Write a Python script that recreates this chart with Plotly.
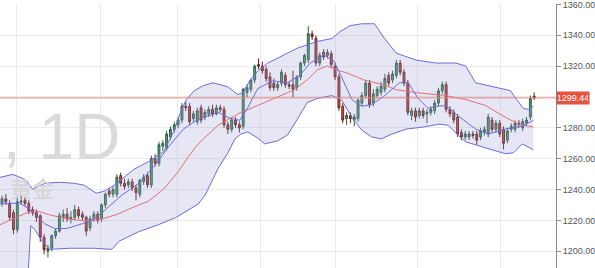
import plotly.graph_objects as go

# ---- OHLC data (daily candles) ----
opens = [1231,1234,1231,1225,1214,1232,1233,1231,1227,1225,
         1223,1209,1200,1202,1210,1213,1222,1224,1221,1222,
         1227,1224,1222,1215,1221,1224,1221,1230,1239,1237,
         1237,1249,1244,1243,1245,1241,1237,1245,1249,1243,
         1260,1257,1268,1267,1274,1279,1282,1285,1294,1294,
         1286,1284,1293,1287,1289,1292,1289,1293,1292,1282,
         1279,1285,1282,1281,1303,1305,1311,1321,1320,1318,
         1313,1309,1306,1309,1314,1308,1308,1306,1313,1322,
         1324,1341,1338,1322,1329,1327,1328,1320,1313,1294,
         1286,1288,1285,1286,1296,1301,1309,1296,1301,1303,
         1305,1314,1311,1314,1322,1316,1309,1288,1291,1288,
         1291,1289,1290,1291,1296,1304,1308,1292,1290,1287,
         1277,1274,1274,1276,1276,1274,1277,1276,1285,1279,
         1283,1279,1272,1279,1279,1283,1280,1283,1287,1300.5]
highs = [1236,1237,1233,1227,1235,1236,1235,1233,1229,1227,
         1224,1211,1204,1211,1215,1225,1227,1228,1226,1230,
         1229,1226,1223,1223,1226,1226,1231,1238,1241,1242,
         1250,1251,1247,1247,1247,1243,1247,1250,1251,1262,
         1263,1271,1272,1278,1281,1284,1287,1296,1297,1296,
         1291,1293,1295,1292,1294,1295,1295,1295,1294,1284,
         1287,1287,1284,1306,1308,1312,1321,1325,1323,1320,
         1316,1312,1310,1318,1316,1310,1317,1314,1323,1328,
         1346,1343,1340,1329,1331,1331,1330,1322,1315,1296,
         1290,1290,1289,1299,1303,1311,1311,1305,1307,1310,
         1315,1316,1317,1324,1324,1318,1311,1293,1293,1293,
         1293,1292,1294,1298,1306,1310,1310,1294,1292,1289,
         1279,1278,1278,1278,1278,1280,1281,1289,1287,1285,
         1285,1281,1280,1283,1285,1285,1286,1287,1301,1303]
lows = [1229,1230,1220,1211,1212,1230,1229,1224,1223,1219,
        1206,1198,1196,1200,1208,1212,1219,1219,1218,1220,
        1221,1220,1210,1213,1219,1218,1219,1228,1235,1235,
        1235,1242,1240,1241,1239,1233,1235,1243,1241,1241,
        1255,1255,1265,1265,1272,1277,1280,1283,1291,1282,
        1284,1282,1283,1285,1287,1287,1288,1290,1280,1276,
        1277,1280,1277,1279,1300,1303,1309,1318,1315,1310,
        1304,1304,1304,1307,1306,1305,1300,1304,1311,1320,
        1322,1337,1320,1320,1324,1325,1319,1311,1291,1283,
        1282,1283,1281,1284,1294,1299,1293,1294,1299,1301,
        1303,1307,1309,1312,1314,1307,1288,1285,1284,1286,
        1286,1283,1288,1289,1294,1302,1290,1287,1283,1274,
        1272,1272,1272,1273,1269,1272,1275,1274,1277,1277,
        1274,1266,1270,1277,1277,1280,1278,1281,1285,1298]
closes = [1234,1232,1222,1214,1232,1232.5,1231,1226,1225,1222,
          1209,1201,1202,1210,1213,1223,1224,1221,1222,1227,
          1223,1222,1213,1221,1224,1220,1230,1237,1237,1240,
          1248,1244,1242,1245,1241,1238,1246,1248,1243,1260,
          1257,1269,1270,1276,1279,1282,1285,1294,1293,1284,
          1289,1291,1285,1290,1292,1289,1293,1292,1282,1279,
          1285,1282,1280,1305,1306,1311,1320,1320,1317,1312,
          1306,1306,1308,1316,1308,1307,1305,1313,1322,1327,
          1341,1339,1322,1327,1326,1329,1321,1313,1293,1285,
          1288,1286,1287,1298,1301,1309,1295,1302,1305,1307,
          1312,1309,1315,1322,1316,1309,1290,1291,1287,1291,
          1288,1290,1292,1296,1304,1308,1292,1289,1285,1276,
          1274,1276,1276,1275,1272,1278,1279,1287,1279,1283,
          1276,1270,1278,1281,1283,1282,1284,1285,1299,1299.44]
days = list(range(len(closes)))

# ---- Bollinger upper band (day index, price) ----
upper_x = [-0.5, 2.85, 5.95, 8.0, 11.1, 15.0, 18.9, 21.5, 24.6, 26.7, 29.3, 31.8, 34.4,
           38.3, 42.2, 44.8, 46.6, 48.15, 50.2, 52.55, 55.1, 59.0, 61.6, 62.9, 64.7,
           66.8, 69.4, 72.0, 77.1, 82.3, 86.2, 88.3, 90.9, 94.0, 97.3, 99.9, 103.0,
           108.2, 113.4, 118.6, 121.1, 123.7, 128.9, 132.8, 134.6, 136.2, 137.5, 138.75]
upper_y = [1247.9, 1249.8, 1246.6, 1240.2, 1244.0, 1244.7, 1244.0, 1242.8, 1237.6, 1238.9,
           1242.8, 1247.9, 1253.0, 1258.1, 1264.5, 1277.3, 1290.0, 1298.3, 1304.1, 1307.3,
           1309.2, 1306.6, 1301.5, 1302.8, 1310.5, 1316.9, 1322.0, 1325.2, 1331.6, 1336.0,
           1337.9, 1342.4, 1346.2, 1347.5, 1347.5, 1337.9, 1328.4, 1323.9, 1322.0, 1322.0,
           1320.1, 1309.2, 1306.0, 1304.1, 1297.7, 1292.6, 1292.0, 1293.9]

# ---- Bollinger lower band ----
lower_x = [-0.5, 6.47, 7.51, 8.54, 10.35, 12.43, 17.6, 24.07, 28.73, 30.55, 35.72, 40.9,
           45.3, 51.26, 53.07, 56.43, 59.02, 60.83, 62.39, 64.2, 66.79, 68.6, 71.96, 74.55,
           77.14, 79.73, 82.32, 86.2, 88.79, 91.38, 93.97, 96.56, 99.15, 101.2, 105.6,
           110.0, 114.2, 116.5, 119.3, 121.1, 126.3, 131.5, 133.6, 135.9, 138.75]
lower_y = [1168.7, 1168.7, 1216.6, 1214.0, 1207.0, 1201.2, 1201.9, 1201.9, 1201.2, 1206.4,
           1212.7, 1217.2, 1221.7, 1230.6, 1236.4, 1253.6, 1263.8, 1272.8, 1276.0, 1277.3,
           1273.4, 1269.6, 1271.5, 1275.3, 1285.6, 1296.4, 1299.0, 1300.9, 1297.7, 1286.8,
           1278.5, 1274.1, 1272.8, 1275.3, 1279.2, 1280.5, 1282.4, 1281.7, 1274.7, 1270.9,
           1267.0, 1263.2, 1263.8, 1269.6, 1265.8]

# ---- middle line (red) ----
mid_x = [-0.5, 2.85, 6.47, 9.06, 12.43, 16.83, 20.97, 25.37, 29.77, 33.91, 38.31, 42.19,
         46.08, 48.67, 51.26, 56.43, 62.39, 68.6, 76.37, 79.73, 82.32, 84.91, 87.5, 90.09,
         94.49, 99.66, 103.0, 108.2, 115.97, 121.15, 126.3, 131.5, 134.9, 138.75]
mid_y = [1217.2, 1221.0, 1224.9, 1226.2, 1223.6, 1221.0, 1219.8, 1220.4, 1223.6, 1228.1,
         1232.5, 1240.2, 1251.7, 1261.3, 1269.6, 1281.7, 1290.0, 1296.4, 1304.7, 1311.1,
         1317.5, 1320.1, 1317.5, 1315.6, 1311.1, 1307.9, 1304.7, 1302.8, 1300.9, 1298.3,
         1294.5, 1286.8, 1282.4, 1280.5]

# ---- fast moving average (inner blue) ----
fast_x = [-0.5, 4.66, 8.02, 11.13, 13.72, 16.83, 20.97, 24.07, 26.66, 31.32, 35.72, 40.12,
          43.49, 47.37, 51.26, 56.43, 59.54, 62.13, 64.2, 66.79, 70.67, 74.55, 77.92, 80.51,
          84.13, 86.72, 88.79, 91.38, 93.97, 96.56, 99.66, 103.8, 106.1, 108.7, 111.3,
          113.4, 116.0, 118.6, 123.7, 127.1, 131.5, 135.9, 138.75]
fast_y = [1230.6, 1231.3, 1225.5, 1217.8, 1214.7, 1214.7, 1217.8, 1221.0, 1226.2, 1236.4,
          1244.0, 1256.2, 1267.7, 1279.2, 1285.6, 1290.0, 1286.2, 1284.9, 1293.2, 1305.4,
          1310.5, 1309.2, 1314.3, 1322.0, 1327.1, 1323.3, 1312.4, 1298.3, 1293.9, 1295.1,
          1300.3, 1309.2, 1309.2, 1299.0, 1292.6, 1293.9, 1294.5, 1288.8, 1279.2, 1276.0,
          1279.2, 1281.1, 1284.9]

# ---- axis ticks ----
price_ticks = [1200, 1220, 1240, 1260, 1280, 1300, 1320, 1340, 1360]
price_labels = ['1200.00', '1220.00', '1240.00', '1260.00', '1280.00', '',
                '1320.00', '1340.00', '1360.00']
month_ticks = [3.9, 25.6, 45.8, 67.6, 87.2, 108.5, 130.2]
last_close = closes[-1]

BAND = '#6c6cdc'
fig = go.Figure()
fig.add_trace(go.Scatter(x=lower_x, y=lower_y, mode='lines',
                         line=dict(color=BAND, width=1), hoverinfo='skip'))
fig.add_trace(go.Scatter(x=upper_x, y=upper_y, mode='lines', fill='tonexty',
                         fillcolor='rgba(150,150,215,0.24)',
                         line=dict(color=BAND, width=1), hoverinfo='skip'))
fig.add_trace(go.Scatter(x=mid_x, y=mid_y, mode='lines',
                         line=dict(color='#e07272', width=1), hoverinfo='skip'))
fig.add_trace(go.Scatter(x=fast_x, y=fast_y, mode='lines',
                         line=dict(color=BAND, width=1), hoverinfo='skip'))
fig.add_trace(go.Scatter(x=[-1, len(closes) + 6], y=[last_close, last_close], mode='lines',
                         line=dict(color='#e9877d', width=1), hoverinfo='skip'))
fig.add_trace(go.Candlestick(
    x=days, open=opens, high=highs, low=lows, close=closes,
    increasing=dict(fillcolor='#55a979', line=dict(color='#2f5d40', width=1)),
    decreasing=dict(fillcolor='#d64a3c', line=dict(color='#66261d', width=1)),
    whiskerwidth=0))

# watermark
fig.add_annotation(text=', 1D', xref='paper', yref='paper', x=123 / 561, y=0.495,
                   xanchor='right', yanchor='middle', showarrow=False,
                   font=dict(family='Liberation Sans, Arial', size=64, color='#dadada'))
fig.add_annotation(text='黄金', xref='paper', yref='paper', x=56 / 561, y=1 - 186 / 268,
                   xanchor='right', yanchor='middle', showarrow=False,
                   font=dict(family='Noto Sans CJK SC', size=22, color='#d4d4d4'))
# last price label
fig.add_annotation(text=f'{last_close:.2f}', xref='paper', yref='y', x=1.0, y=last_close,
                   xanchor='left', yanchor='middle', showarrow=False,
                   bgcolor='#e5533f', borderpad=1, width=30,
                   font=dict(family='Liberation Sans, Arial', size=9, color='white'))

fig.update_layout(
    width=595, height=268, margin=dict(l=0, r=34, t=0, b=0),
    paper_bgcolor='white', plot_bgcolor='white', showlegend=False,
    xaxis=dict(range=[-0.52, 144.7], tickvals=month_ticks, showticklabels=False,
               showgrid=True, gridcolor='#ebebeb', gridwidth=1, zeroline=False,
               rangeslider=dict(visible=False), ticks=''),
    yaxis=dict(side='right', range=[1189.1, 1360.3], tickvals=price_ticks,
               ticktext=price_labels, ticklabeloverflow='allow',
               showgrid=True, gridcolor='#ebebeb', zeroline=False,
               showline=True, linecolor='#8a8a8a', linewidth=1, ticks='outside',
               ticklen=4, tickcolor='#8a8a8a',
               tickfont=dict(family='Liberation Sans, Arial', size=9, color='#555555')),
)

fig.write_html('out.html')
